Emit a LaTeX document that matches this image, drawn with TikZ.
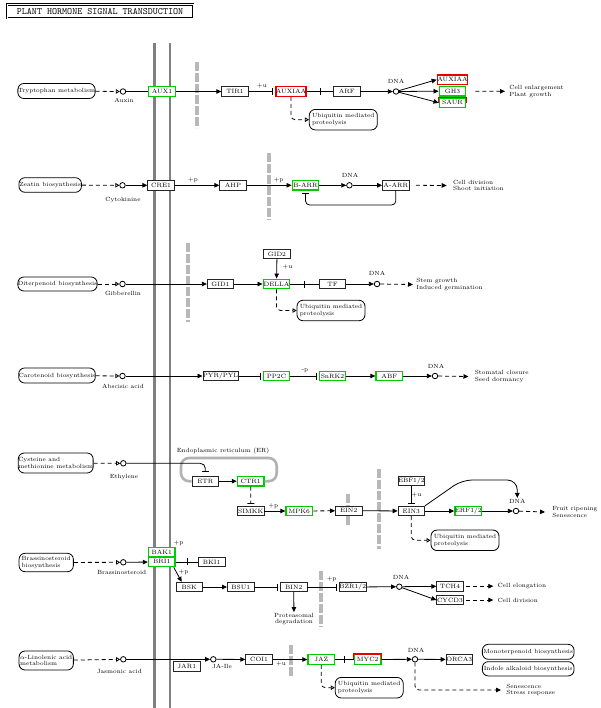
\documentclass[tikz,border=0pt]{standalone}
\usetikzlibrary{arrows.meta,decorations.markings}
\definecolor{kgreen}{RGB}{0,205,0}
\definecolor{kred}{RGB}{230,0,0}
\begin{document}
\begin{tikzpicture}[x=1pt,y=-1pt,line width=0.8pt,font=\fontsize{6}{6.6}\selectfont,
  gene/.style={draw=black!85,fill=white,minimum width=26.5pt,minimum height=9.5pt,inner sep=0pt,font=\fontsize{6.2}{6.4}\selectfont},
  hitg/.style={gene,draw=kgreen,line width=1.4pt},
  hitr/.style={gene,draw=kred,line width=1.4pt},
  cpd/.style={draw,circle,fill=white,minimum size=5.5pt,inner sep=0pt},
  map/.style={draw,fill=white,rounded corners=6pt,inner sep=0pt,align=left},
  ubq/.style={map,minimum width=68pt,minimum height=20.5pt},
  lbl/.style={inner sep=0.5pt},
  outtxt/.style={anchor=west,align=left,inner sep=0pt},
  act/.style={-{Triangle[length=5pt,width=4.5pt]}},
  inhib/.style={-{Bar[width=7pt]}},
  opentri/.style={-{Triangle[open,length=4pt,width=4.5pt]}},
  dsh/.style={dash pattern=on 4pt off 3pt},
  membrane/.style={draw=black!50,line width=2.6pt},
  nucl/.style={draw=black!28,line width=4pt,dash pattern=on 9pt off 2pt},
  er/.style={draw=black!30,line width=2.6pt,rounded corners=8pt},
  midbar/.style={postaction={decorate},decoration={markings,mark=at position 0.5 with {\draw (0,-3.5pt) -- (0,3.5pt);}}}]
\useasboundingbox[fill=white] (0,0) rectangle (600,708);

% title
\node[draw,double,double distance=0.9pt,minimum width=186pt,minimum height=13.5pt,inner sep=0pt,font=\ttfamily\fontsize{9.6}{10}\selectfont] (title) at (100,11.3) {PLANT HORMONE SIGNAL TRANSDUCTION};

% cell and nuclear membranes
\draw[membrane] (154.5,43) -- (154.5,708);
\draw[membrane] (170,43) -- (170,708);
\draw[nucl] (197,62) -- (197,128);
\draw[nucl] (268.5,153) -- (268.5,220);
\draw[nucl] (188.3,243) -- (188.3,322);
\draw[nucl] (378.7,469) -- (378.7,549);
\draw[nucl] (348,494) -- (348,526);
\draw[nucl] (321,571) -- (321,627);
\draw[nucl] (291.3,645) -- (291.3,677);

% auxin
\node[map,minimum width=75pt,minimum height=15pt] (trp) at (56.5,91) {Tryptophan metabolism};
\node[cpd] (auxin) at (123,91.5) {};
\node[lbl] (auxinl) at (124,100) {Auxin};
\node[hitg] (aux1) at (162,91.5) {AUX1};
\node[gene] (tir1) at (235,91.5) {TIR1};
\node[hitr] (auxiaa) at (291,91.5) {AUXIAA};
\node[gene] (arf) at (346.7,91.5) {ARF};
\node[cpd] (dna1) at (396,91.5) {};
\node[lbl] (dnal1) at (396,81) {DNA};
\node[hitr] (auxiaa2) at (452.5,79.7) {AUXIAA};
\node[hitg] (gh3) at (452.5,91.2) {GH3};
\node[hitg] (saur) at (452.5,102.7) {SAUR};
\draw[kred,line width=1.4pt] (saur.west) |- (saur.north east) -- (saur.east);
\node[outtxt] (grow) at (509,91.3) {Cell enlargement\\Plant growth};
\node[ubq] (ub1) at (343.3,119.7) {Ubiquitin mediated\\proteolysis};
\node[lbl] (u1) at (262,86.5) {+u};

\draw[dsh,opentri] (trp) -- (auxin);
\draw (auxin) -- (aux1);
\draw[act] (aux1) -- (tir1);
\draw[inhib] (tir1) -- ([xshift=-2.5pt]auxiaa.west);
\draw[midbar] (auxiaa) -- (arf);
\draw[act] (arf) -- (dna1);
\draw[act] (dna1) -- (auxiaa2.west);
\draw[act] (dna1) -- (gh3.west);
\draw[act] (dna1) -- (saur.west);
\draw[dsh,act] ([xshift=9pt]gh3.east) -- ([xshift=-4pt]grow.west);
\draw[dsh,opentri,rounded corners=4pt] (auxiaa.south) |- (ub1.west);

% cytokinine
\node[map,minimum width=62.5pt,minimum height=14.6pt] (zea) at (50.2,185) {Zeatin biosynthesis};
\node[cpd] (cyto) at (122.5,185.3) {};
\node[lbl] (cytol) at (123,200) {Cytokinine};
\node[gene] (cre1) at (161,185.3) {CRE1};
\node[gene] (ahp) at (233,185.3) {AHP};
\node[hitg] (barr) at (305.5,185.3) {B-ARR};
\node[cpd] (dna2) at (349.4,185.3) {};
\node[lbl] (dnal2) at (350,175) {DNA};
\node[gene] (aarr) at (395.8,185.3) {A-ARR};
\node[outtxt] (div) at (452.7,185.5) {Cell division\\Shoot initiation};
\node[lbl] (p2a) at (193,180) {+p};
\node[lbl] (p2b) at (278.6,180) {+p};

\draw[dsh,opentri] (zea) -- (cyto);
\draw[act] (cyto) -- (cre1);
\draw[act] (cre1) -- (ahp);
\draw[act] (ahp) -- (barr);
\draw[act] (barr) -- (dna2);
\draw[act] (dna2) -- (aarr);
\draw[inhib,rounded corners=4pt] (aarr.south) -- ++(0,14.5) -| ([yshift=-2.5pt]barr.south);
\draw[dsh,act] ([xshift=6.5pt]aarr.east) -- ([xshift=-6pt]div.west);

% gibberellin
\node[map,minimum width=77pt,minimum height=14pt] (dit) at (57.5,284) {Diterpenoid biosynthesis};
\node[cpd] (gib) at (122.5,284) {};
\node[lbl] (gibl) at (123,293.5) {Gibberellin};
\node[gene] (gid1) at (220.5,284) {GID1};
\node[hitg] (della) at (276.5,284) {DELLA};
\node[gene] (gid2) at (277,254) {GID2};
\node[gene] (tf) at (332.5,284) {TF};
\node[cpd] (dna3) at (377,284) {};
\node[lbl] (dnal3) at (377,273) {DNA};
\node[outtxt] (stem) at (416,284.5) {Stem growth\\Induced germination};
\node[ubq] (ub3) at (331,310.5) {Ubiquitin mediated\\proteolysis};
\node[lbl] (u3) at (287.5,267) {+u};

\draw[dsh,opentri] (dit) -- (gib);
\draw[act] (gib) -- (gid1);
\draw[act] (gid1) -- (della);
\draw[act] (gid2) -- (della);
\draw[midbar] (della) -- (tf);
\draw[act] (tf) -- (dna3);
\draw[dsh,act] (dna3) -- ([xshift=-3pt]stem.west);
\draw[dsh,opentri,rounded corners=4pt] (della.south) |- (ub3.west);

% abscisic acid
\node[map,minimum width=76pt,minimum height=15pt] (car) at (57,375.5) {Carotenoid biosynthesis};
\node[cpd] (aba) at (122.5,376) {};
\node[lbl] (abal) at (123,386.5) {Abscisic acid};
\node[gene] (pyr) at (220.5,376) {PYR/PYL};
\node[hitg] (pp2c) at (276.5,376) {PP2C};
\node[hitg] (snrk2) at (332.5,376) {SnRK2};
\node[hitg] (abf) at (389.3,376) {ABF};
\node[cpd] (dna4) at (435,376) {};
\node[lbl] (dnal4) at (436,366) {DNA};
\node[outtxt] (stoma) at (474.5,376.5) {Stomatal closure\\Seed dormancy};
\node[lbl] (p4) at (305,371) {-p};

\draw[dsh,opentri] (car) -- (aba);
\draw[act] (aba) -- (pyr);
\draw[inhib] (pyr) -- ([xshift=-2pt]pp2c.west);
\draw[inhib] (pp2c) -- ([xshift=-2pt]snrk2.west);
\draw[act] (snrk2) -- (abf);
\draw[act] (abf) -- (dna4);
\draw[dsh,act] (dna4) -- ([xshift=-6pt]stoma.west);

% ethylene
\node[map,minimum width=73.3pt,minimum height=20pt] (cys) at (55.7,463) {Cysteine and\\methionine metabolism};
\node[cpd] (eth) at (123.3,463.3) {};
\node[lbl] (ethl) at (124,477) {Ethylene};
\node[lbl] (erl) at (223,450.5) {Endoplasmic reticulum (ER)};
\node[gene] (etr) at (205.3,481.2) {ETR};
\node[hitg] (ctr1) at (250.7,481.2) {CTR1};
\node[gene] (simkk) at (250.8,511) {SIMKK};
\node[hitg] (mpk6) at (299.3,511) {MPK6};
\node[gene] (ein2) at (348.7,510.7) {EIN2};
\node[gene] (ein3) at (411.3,511) {EIN3};
\node[gene] (ebf) at (411.3,480.7) {EBF1/2};
\node[hitg] (erf) at (468.3,511) {ERF1/2};
\node[cpd] (dna5) at (516,511) {};
\node[lbl] (dnal5) at (517.3,501) {DNA};
\node[outtxt] (fruit) at (552,512) {Fruit ripening\\Senescence};
\node[ubq] (ub5) at (465,540.3) {Ubiquitin mediated\\proteolysis};
\node[lbl] (p5) at (273.3,506.5) {+p};
\node[lbl] (u5) at (416.5,495) {+u};

\draw[er] (etr.west) -| (181,458) -| (276.7,481.2) -- (ctr1.east);
\draw[dsh,opentri] (cys) -- (eth);
\draw[inhib,rounded corners=5pt] (eth) -| ([yshift=4pt]etr.north);
\draw[act] (etr) -- (ctr1);
\draw[dsh,inhib] (ctr1) -- ([yshift=2pt]simkk.north);
\draw[act] (simkk) -- (mpk6);
\draw[dsh,act] (mpk6) -- (ein2);
\draw[act] (ein2) -- (ein3);
\draw[inhib] (ebf) -- ([yshift=2.5pt]ein3.north);
\draw[act] (ein3) -- (erf);
\draw[act] (erf) -- (dna5);
\draw[act,rounded corners=10pt] (ein3.north east) -- (462,480) -| (dnal5.north);
\draw[dsh,act] (dna5) -- ([xshift=-7pt]fruit.west);
\draw[dsh,opentri,rounded corners=4pt] (ein3.south) |- (ub5.west);

% brassinosteroid
\node[map,minimum width=54.3pt,minimum height=18.4pt] (bra) at (46.2,562.5) {Brassinosteroid\\biosynthesis};
\node[cpd] (brs) at (123.3,562.3) {};
\node[lbl] (brsl) at (121.7,572.7) {Brassinosteroid};
\node[hitg] (bak1) at (161.8,552.2) {BAK1};
\node[hitg] (bri1) at (161.8,561.9) {BRI1};
\node[gene] (bki1) at (211.7,561.9) {BKI1};
\node[gene] (bsk) at (189.3,587) {BSK};
\node[gene] (bsu1) at (240.7,587) {BSU1};
\node[gene] (bin2) at (293.7,587) {BIN2};
\node[gene] (bzr) at (352.7,587) {BZR1/2};
\node[cpd] (dna6) at (399.3,586.7) {};
\node[lbl] (dnal6) at (401,577.3) {DNA};
\node[gene] (tch4) at (450,586.2) {TCH4};
\node[gene] (cycd3) at (450,600) {CYCD3};
\node[outtxt] (elong) at (497.3,586.2) {Cell elongation};
\node[outtxt] (cdiv) at (497.3,600) {Cell division};
\node[lbl,align=center] (prot) at (294,619) {Proteasomal\\degradation};
\node[lbl] (p6a) at (178.5,543.3) {+p};
\node[lbl] (p6b) at (183.5,571.7) {+p};
\node[lbl] (p6c) at (331.7,579.3) {+p};

\draw[dsh,opentri] (bra) -- (brs);
\draw[act] (brs) -- (bri1);
\draw[midbar] (bri1) -- (bki1);
\draw[act] ([xshift=-2pt]bri1.south east) -- ([xshift=6pt]bsk.north west);
\draw[act] (bsk) -- (bsu1);
\draw[inhib] (bsu1) -- ([xshift=-2.5pt]bin2.west);
\draw[act] (bin2) -- (prot);
\draw[inhib] (bin2) -- ([xshift=-2pt]bzr.west);
\draw[act] (bzr) -- (dna6);
\draw[act] (dna6) -- (tch4);
\draw[act] (dna6) -- (cycd3.west);
\draw[dsh,act] ([xshift=2pt]tch4.east) -- ([xshift=-4pt]elong.west);
\draw[dsh,act] ([xshift=2pt]cycd3.east) -- ([xshift=-4pt]cdiv.west);

% jasmonic acid
\node[map,minimum width=54.3pt,minimum height=19pt] (lin) at (46.2,660.5) {$\alpha$-Linolenic acid\\metabolism};
\node[cpd] (ja) at (123.3,659.3) {};
\node[lbl] (jal) at (119.3,671.7) {Jasmonic acid};
\node[cpd] (jaile) at (213.3,659.3) {};
\node[lbl] (jailel) at (222,666.7) {JA-Ile};
\node[gene] (jar1) at (186.7,666.2) {JAR1};
\node[gene] (coi1) at (259,659.5) {COI1};
\node[lbl] (u7) at (281,664) {+u};
\node[hitg] (jaz) at (321.3,659.5) {JAZ};
\node[hitg] (myc2) at (367.7,659.5) {MYC2};
\draw[kred,line width=1.4pt] (myc2.west) |- (myc2.north east) -- (myc2.east);
\node[cpd] (dna7) at (415,659.3) {};
\node[lbl] (dnal7) at (416,650) {DNA};
\node[gene] (orca3) at (459.3,659.5) {ORCA3};
\node[map,minimum width=91.7pt,minimum height=15pt] (mono) at (528.2,651.8) {Monoterpenoid biosynthesis};
\node[map,minimum width=91.7pt,minimum height=14.3pt] (indole) at (528.2,668.8) {Indole alkaloid biosynthesis};
\node[outtxt] (stress) at (506,690) {Senescence\\Stress response};
\node[ubq] (ub7) at (369.2,687.7) {Ubiquitin mediated\\proteolysis};

\draw[dsh,opentri] (lin) -- (ja);
\draw[act] (ja) -- (jaile);
\draw[act] (jaile) -- (coi1);
\draw[act] (coi1) -- (jaz);
\draw[midbar] (jaz) -- (myc2);
\draw[act] (myc2) -- (dna7);
\draw[act] (dna7) -- (orca3);
\draw[dsh,act,rounded corners=4pt] (dna7.south) |- ([xshift=-5pt]stress.west);
\draw[dsh,opentri,rounded corners=4pt] (jaz.south) |- (ub7.west);
\end{tikzpicture}
\end{document}
